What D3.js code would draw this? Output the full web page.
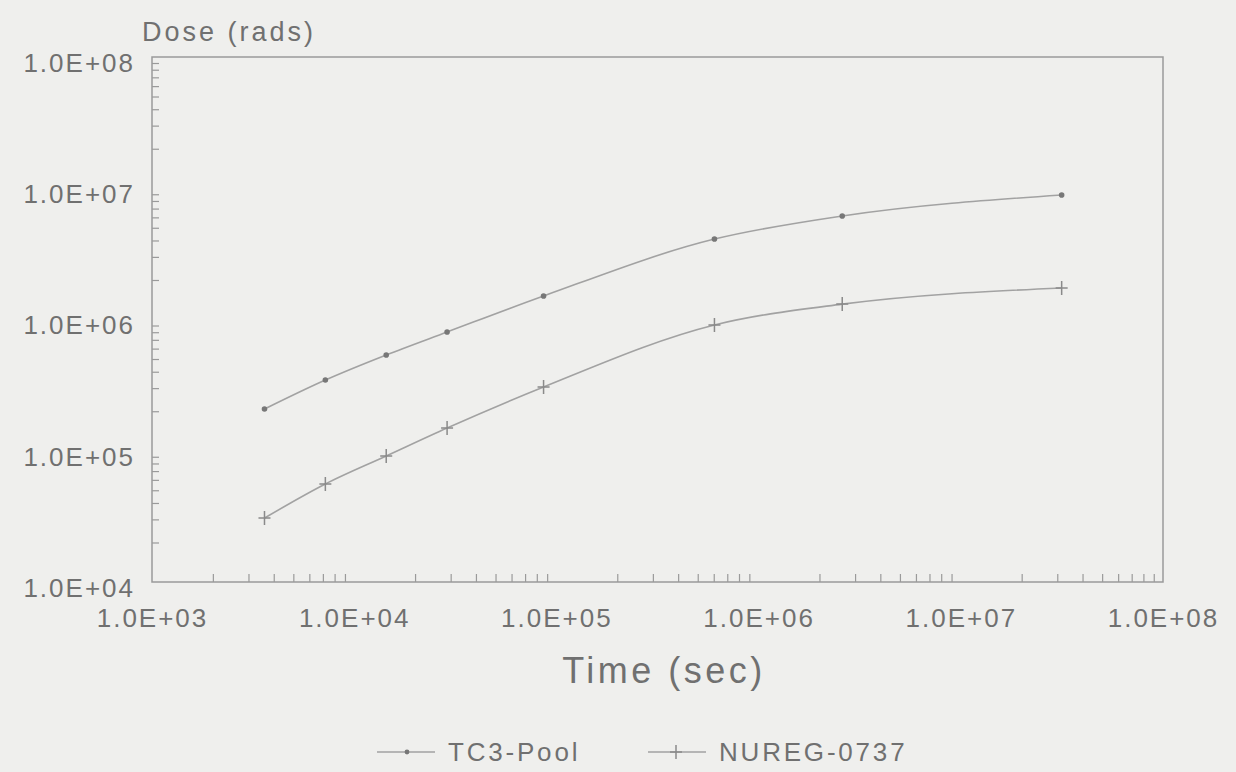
<!DOCTYPE html>
<meta charset="utf-8">
<style>
body { margin: 0; background: #efefed; }
svg { font-family: "Liberation Sans", Arial, sans-serif; }
.frame { fill: none; stroke: #9a9a9a; stroke-width: 1.5px; }
.line { fill: none; stroke: #a2a2a2; stroke-width: 1.6px; }
.axis text { fill: #707070; font-size: 26px; letter-spacing: 2px; }
.axis line { stroke: #9a9a9a; stroke-width: 1.2px; }
.axis path { display: none; }
.title { fill: #707070; }
</style>
<body>
<script src="https://d3js.org/d3.v7.min.js"></script>
<script>

// time points (sec): 1h, 2h, 4h, 8h, 1d, 1wk, 30d, 1yr
var times = [3600, 7200, 14400, 28800, 86400, 604800, 2592000, 31536000];
var tc3Pool = [2.08e5, 3.46e5, 5.37e5, 8.03e5, 1.51e6, 4.10e6, 6.15e6, 8.89e6];
var nureg0737 = [3.07e4, 5.58e4, 9.12e4, 1.49e5, 3.06e5, 9.08e5, 1.31e6, 1.74e6];
var seriesNames = ["TC3-Pool", "NUREG-0737"];
var xDecades = [1e3, 1e4, 1e5, 1e6, 1e7, 1e8];
var yDecades = [1e4, 1e5, 1e6, 1e7, 1e8];

var margin = {top: 57, right: 73, bottom: 190, left: 152},
    width = 1236 - margin.left - margin.right,
    height = 772 - margin.top - margin.bottom;

var x = d3.scaleLog().domain([1e3, 1e8]).range([0, width]);
var y = d3.scaleLog().domain([1e4, 1e8]).range([height, 0]);

// "1.0E+05" style labels
function sci(d) {
  var e = Math.round(Math.log10(d));
  return "1.0E+" + (e < 10 ? "0" : "") + e;
}

// minor ticks 2..9 in every decade
function minors(decs) {
  var out = [];
  decs.slice(0, -1).forEach(function(d) {
    for (var k = 2; k <= 9; k++) out.push(d * k);
  });
  return out;
}

var svg = d3.select("body").append("svg")
    .attr("width", 1236)
    .attr("height", 772);

var g = svg.append("g")
    .attr("transform", "translate(" + margin.left + "," + margin.top + ")");

// minor ticks, pointing inward
g.append("g")
    .attr("class", "axis")
    .attr("transform", "translate(0," + height + ")")
    .call(d3.axisBottom(x).tickValues(minors(xDecades)).tickSize(-8).tickFormat(""));

g.append("g")
    .attr("class", "axis")
    .call(d3.axisLeft(y).tickValues(minors(yDecades)).tickSize(-7).tickFormat(""));

// decade labels
g.append("g")
    .attr("class", "axis")
    .attr("transform", "translate(0," + height + ")")
    .call(d3.axisBottom(x).tickValues(xDecades).tickSize(0).tickPadding(27).tickFormat(sci));

g.append("g")
    .attr("class", "axis")
    .call(d3.axisLeft(y).tickValues(yDecades).tickSize(0).tickPadding(17).tickFormat(sci))
  .selectAll("text")
    .attr("dy", "0.55em");

// plot frame
g.append("rect")
    .attr("class", "frame")
    .attr("width", width)
    .attr("height", height);

var valueline = d3.line()
    .x(function(d) { return x(d[0]); })
    .y(function(d) { return y(d[1]); })
    .curve(d3.curveMonotoneX);

var data1 = times.map(function(t, i) { return [t, tc3Pool[i]]; });
var data2 = times.map(function(t, i) { return [t, nureg0737[i]]; });

g.append("path").datum(data1).attr("class", "line").attr("d", valueline);
g.append("path").datum(data2).attr("class", "line").attr("d", valueline);

// dot markers
g.selectAll(".dot")
    .data(data1)
  .enter().append("circle")
    .attr("cx", function(d) { return x(d[0]); })
    .attr("cy", function(d) { return y(d[1]); })
    .attr("r", 2.8)
    .style("fill", "#777");

// plus markers
function plus(sel, s) {
  sel.append("path")
      .attr("d", "M" + (-s) + ",0H" + s + "M0," + (-s - 1) + "V" + (s + 1))
      .style("stroke", "#8a8a8a")
      .style("stroke-width", 1.5);
}
g.selectAll(".plus")
    .data(data2)
  .enter().append("g")
    .attr("transform", function(d) { return "translate(" + x(d[0]) + "," + y(d[1]) + ")"; })
    .call(plus, 6);

// titles
svg.append("text")
    .attr("class", "title")
    .attr("x", 142).attr("y", 41)
    .style("font-size", "27px")
    .style("letter-spacing", "3px")
    .text("Dose (rads)");

svg.append("text")
    .attr("class", "title")
    .attr("x", 664).attr("y", 683)
    .attr("text-anchor", "middle")
    .style("font-size", "36px")
    .style("letter-spacing", "3.5px")
    .text("Time (sec)");

// legend
var legend = svg.append("g");
var lx = [377, 648];
seriesNames.forEach(function(name, i) {
  var item = legend.append("g").attr("transform", "translate(" + lx[i] + ",752)");
  item.append("line")
      .attr("x1", 0).attr("x2", 58)
      .style("stroke", "#a2a2a2").style("stroke-width", 1.6);
  if (i === 0) {
    item.append("circle").attr("cx", 30).attr("r", 2.4).style("fill", "#777");
  } else {
    item.append("g").attr("transform", "translate(28,0)").call(plus, 6);
  }
  item.append("text")
      .attr("class", "title")
      .attr("x", 71).attr("y", 9)
      .style("font-size", "26px")
      .style("letter-spacing", "2.8px")
      .text(name);
});

</script>
</body>
